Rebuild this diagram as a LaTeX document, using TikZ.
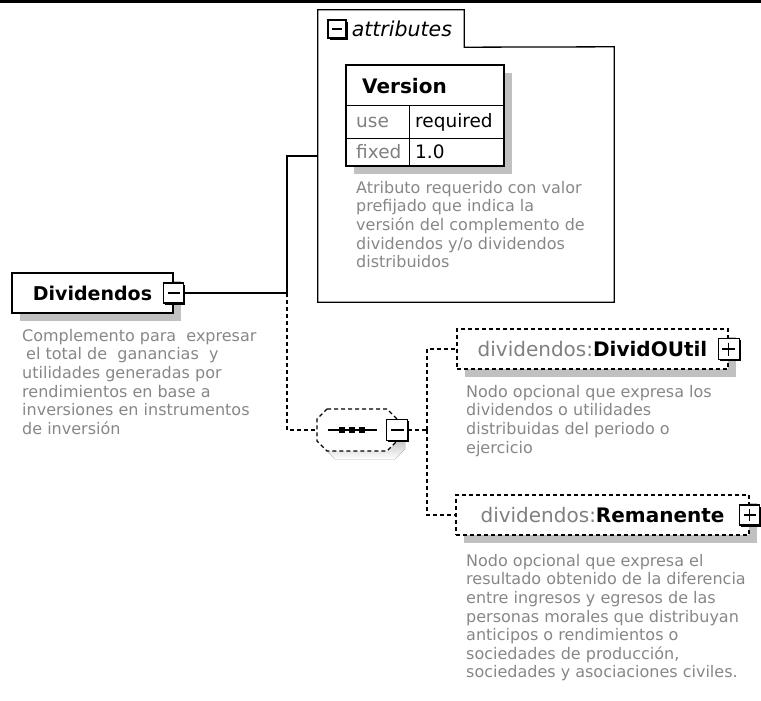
\documentclass[tikz,border=0pt]{standalone}
\usepackage{fontspec}
\setmainfont{DejaVu Sans}
\usepackage{tikz}
\usetikzlibrary{shadows, positioning}
\definecolor{descgray}{HTML}{878787}
\definecolor{prefixgray}{HTML}{808080}
\definecolor{shade}{HTML}{C0C0C0}

\begin{document}
\begin{tikzpicture}[x=1pt, y=-1pt,
  box/.style={draw, line width=1.3pt, fill=white, minimum height=40pt, inner sep=0pt,
    font=\fontsize{20}{22}\selectfont\bfseries,
    general shadow={shadow xshift=8pt, shadow yshift=-8pt, fill=shade}},
  optbox/.style={box, dash pattern=on 4pt off 3pt},
  toggle/.style={draw, line width=1.3pt, fill=white, minimum size=20pt, inner sep=0pt,
    general shadow={shadow xshift=1.6pt, shadow yshift=-1.6pt, fill=black}},
  minus/.style={toggle, path picture={
    \draw[line width=1.3pt] ([xshift=4pt]path picture bounding box.west) -- ([xshift=-4pt]path picture bounding box.east);}},
  plus/.style={toggle, path picture={
    \draw[line width=1.3pt] ([xshift=4pt]path picture bounding box.west) -- ([xshift=-4pt]path picture bounding box.east)
      ([yshift=-4pt]path picture bounding box.north) -- ([yshift=4pt]path picture bounding box.south);}},
  desc/.style={anchor=north west, align=left, inner sep=0pt, text=descgray,
    font=\fontsize{16}{18.6}\selectfont},
  cell/.style={anchor=west, inner sep=0pt, font=\fontsize{18.5}{20}\selectfont},
  wire/.style={line width=1.3pt},
  optwire/.style={wire, dash pattern=on 4pt off 3pt}]
\useasboundingbox (0,0) rectangle (761,701);
\fill (0,0) rectangle (761,3.5);

% attributes container
\node[minimum width=296pt, minimum height=255pt, inner sep=0pt] (attr) at (466,174.5) {};
\node[minimum width=146pt, minimum height=37pt, inner sep=0pt] (attrtab) at (391,28.5) {};
\draw[wire] (attrtab.north west) -- (attrtab.north east) -- (attrtab.south east)
  -- (attr.north east) -- (attr.south east) -- (attr.south west) -- cycle;
\node[minus, minimum size=18pt] (tabexp) at (337,29) {};
\node[anchor=west, inner sep=0pt, font=\fontsize{20.5}{22}\selectfont\itshape] (tablbl) at ([xshift=5pt]tabexp.east) {attributes};

% Version table
\node[draw, line width=1.3pt, fill=white, minimum width=158pt, minimum height=101pt, inner sep=0pt,
  general shadow={shadow xshift=8pt, shadow yshift=-8pt, fill=shade}] (vtab) at (425,115.5) {};
\draw[line width=1pt] (346,106) -- (504,106) (346,138) -- (504,138) (409,106) -- (409,166);
\node[cell, font=\fontsize{20}{22}\selectfont\bfseries] (vname) at (362,86) {Version};
\node[cell, text=prefixgray] (vuse) at (356,122) {use};
\node[cell] (vuseval) at (415,122) {required};
\node[cell, text=prefixgray] (vfix) at (356,152) {fixed};
\node[cell] (vfixval) at (415,152) {1.0};
\node[desc] (attrdesc) at (356,181) {Atributo requerido con valor\\prefijado que indica la\\versión del complemento de\\dividendos y/o dividendos\\distribuidos};

% root element
\node[box, minimum width=161pt, font=\fontsize{19}{21}\selectfont\bfseries] (div) at (92.5,293) {Dividendos};
\node[minus] (divexp) at (div.east) {};
\node[desc] (divdesc) at (22,329) {Complemento para\ \ expresar\\\hspace*{4pt}el total de\ \ ganancias\ \ y\\utilidades generadas por\\rendimientos en base a\\inversiones en instrumentos\\de inversión};

% sequence
\node[minimum width=80pt, minimum height=42pt, inner sep=0pt] (seq) at (357,430) {};
\fill[shade] (335,417) -- (395,417) -- (405,427) -- (405,449) -- (395,459) -- (335,459) -- (325,449) -- (325,427) -- cycle;
\filldraw[optwire, fill=white] (327,409) -- (387,409) -- (397,419) -- (397,441) -- (387,451) -- (327,451) -- (317,441) -- (317,419) -- cycle;
\draw[line width=1.3pt] ([xshift=-29pt]seq.center) -- ([xshift=20pt]seq.center);
\foreach \dx in {-15,-5,5}
  \fill ([xshift=\dx pt]seq.center) +(-2.8,-2.8) rectangle +(2.8,2.8);
\node[minus, minimum size=21pt] (seqexp) at (seq.east) {};

% children
\node[optbox, minimum width=271pt] (divid) at (592.5,349) {{\mdseries\color{prefixgray}dividendos:}DividOUtil};
\node[plus, minimum size=21pt] (dividexp) at (divid.east) {};
\node[desc] (dividdesc) at (466,385) {Nodo opcional que expresa los\\dividendos o utilidades\\distribuidas del periodo o\\ejercicio};

\node[optbox, minimum width=293pt] (reman) at (602.5,515) {{\mdseries\color{prefixgray}dividendos:}Remanente};
\node[plus] (remanexp) at (reman.east) {};
\node[desc] (remandesc) at (466,554) {Nodo opcional que expresa el\\resultado obtenido de la diferencia\\entre ingresos y egresos de las\\personas morales que distribuyan\\anticipos o rendimientos o\\sociedades de producción,\\sociedades y asociaciones civiles.};

% connectors
\coordinate (branch) at (287,293);
\coordinate (attrin) at (attr.west |- 0,156);
\coordinate (fork) at (427,430);
\draw[wire] (divexp.east) -- (branch) |- (attrin);
\draw[optwire] (branch) |- (seq.west);
\draw[optwire] (seqexp.east) -- (fork);
\draw[optwire] (fork) |- (divid.west);
\draw[optwire] (fork) |- (reman.west);
\end{tikzpicture}
\end{document}
